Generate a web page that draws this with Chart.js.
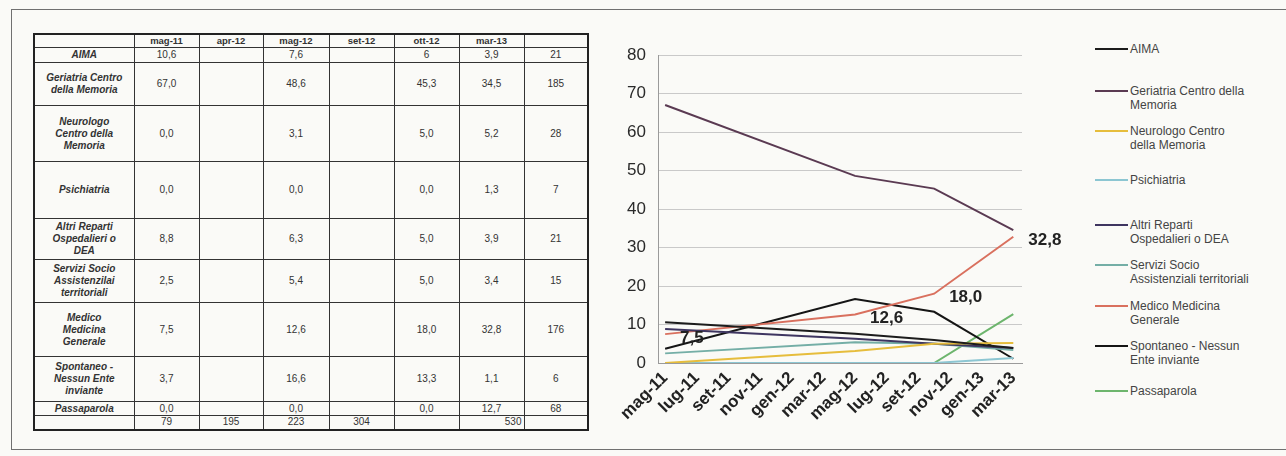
<!DOCTYPE html>
<html>
<head>
<meta charset="utf-8">
<script src="https://cdn.jsdelivr.net/npm/chart.js@4.4.1/dist/chart.umd.min.js"></script>
<style>
  html, body { margin: 0; padding: 0; background: #fafaf7; }
  body { width: 1286px; height: 456px; position: relative; overflow: hidden;
         font-family: "Liberation Sans", Arial, sans-serif; }
  #frame { position: absolute; left: 11px; top: 9px; width: 1300px; height: 439px;
           border: 1.5px solid #707070; border-right: none; }
  #tbl { position: absolute; left: 33px; top: 33px; border-collapse: collapse; table-layout: fixed;
         border: 2px solid #222; font-size: 10px; color: #333; }
  #tbl td { border: 1px solid #333; padding: 0 2px; text-align: center; vertical-align: middle;
            line-height: 12px; overflow: hidden; }
  #tbl tr.head td { font-weight: bold; font-size: 9.5px; }
  #tbl td.lab { font-weight: bold; font-style: italic; }
  #tbl td.right { text-align: right; }
  #chartBox { position: absolute; left: 600px; top: 30px; width: 490px; height: 410px; }
  .lg { position: absolute; left: 1095px; width: 190px; font-size: 12px; line-height: 14px; color: #444; }
  .lg i { position: absolute; left: 0; top: 6px; width: 33px; height: 2px; }
  .lg span { display: block; margin-left: 35px; white-space: pre; }
</style>
</head>
<body>
<div id="frame"></div>
<table id="tbl"></table>
<div id="chartBox"><canvas id="c" width="490" height="410"></canvas></div>
<div id="legend"></div>

<script>
// ---- data ----
const monthLabels = ['mag-11','lug-11','set-11','nov-11','gen-12','mar-12',
                     'mag-12','lug-12','set-12','nov-12','gen-13','mar-13'];
// survey dates, counted in months from mag-11: mag-11, mag-12, ott-12, mar-13
const surveyMonths = [0, 12, 17, 22];
const tableColumns = ['mag-11','apr-12','mag-12','set-12','ott-12','mar-13',''];
const surveyColumns = [0, 2, 4, 5]; // table columns holding the survey values

const seriesNames = ['AIMA','Geriatria Centro della Memoria','Neurologo Centro della Memoria','Psichiatria',
  'Altri Reparti Ospedalieri o DEA','Servizi Socio Assistenziali territoriali','Medico Medicina Generale',
  'Spontaneo - Nessun Ente inviante','Passaparola'];
const legendNames = ['AIMA','Geriatria Centro della\nMemoria','Neurologo Centro\ndella Memoria','Psichiatria',
  'Altri Reparti\nOspedalieri o DEA','Servizi Socio\nAssistenziali territoriali','Medico Medicina\nGenerale',
  'Spontaneo - Nessun\nEnte inviante','Passaparola'];
const tableNames = ['AIMA','Geriatria Centro\ndella Memoria','Neurologo\nCentro della\nMemoria','Psichiatria',
  'Altri Reparti\nOspedalieri o\nDEA','Servizi Socio\nAssistenzilai\nterritoriali','Medico\nMedicina\nGenerale',
  'Spontaneo -\nNessun Ente\ninviante','Passaparola'];

const aima        = [10.6, 7.6, 6.0, 3.9];
const geriatria   = [67.0, 48.6, 45.3, 34.5];
const neurologo   = [0.0, 3.1, 5.0, 5.2];
const psichiatria = [0.0, 0.0, 0.0, 1.3];
const altriReparti= [8.8, 6.3, 5.0, 3.9];
const servizi     = [2.5, 5.4, 5.0, 3.4];
const medico      = [7.5, 12.6, 18.0, 32.8];
const spontaneo   = [3.7, 16.6, 13.3, 1.1];
const passaparola = [0.0, 0.0, 0.0, 12.7];
const rowTotals   = [21, 185, 28, 7, 21, 15, 176, 6, 68];
const columnTotals = [79, 195, 223, 304, null, 530];

const seriesValues = [aima, geriatria, neurologo, psichiatria, altriReparti, servizi, medico, spontaneo, passaparola];
const seriesColors = ['#1c1c1c','#5a3a52','#e6bd3c','#8cc6d2','#3e3560','#74aea6','#d9705e','#151515','#6db56d'];
const labelledSeries = 6; // Medico Medicina Generale carries value labels
const wholeNumberCells = { '0:2': true }; // AIMA ott-12 is written as an integer

// ---- layout ----
const rowHeights = [13, 15, 43, 56, 57, 41, 43, 54, 45, 14, 14];
const colWidths = [100, 65, 64, 66, 65, 65, 65, 64];
const legendTops = [42, 84, 124, 173, 218, 258, 299, 339, 384];

const fmt = v => v.toFixed(1).replace('.', ',');

// ---- table ----
const tbl = document.getElementById('tbl');
const cg = document.createElement('colgroup');
colWidths.forEach(w => { const c = document.createElement('col'); c.style.width = w + 'px'; cg.appendChild(c); });
tbl.appendChild(cg);
function addRow(cells, h, cls) {
  const tr = document.createElement('tr');
  tr.style.height = h + 'px';
  if (cls) tr.className = cls;
  cells.forEach(c => {
    const td = document.createElement('td');
    if (c && typeof c === 'object') { td.innerHTML = c.html; if (c.cls) td.className = c.cls; }
    else td.textContent = c == null ? '' : c;
    tr.appendChild(td);
  });
  tbl.appendChild(tr);
}
addRow([''].concat(tableColumns), rowHeights[0], 'head');
seriesValues.forEach((vals, si) => {
  const cells = [{ html: tableNames[si].replace(/\n/g, '<br>'), cls: 'lab' }];
  for (let c = 0; c < 6; c++) cells.push('');
  vals.forEach((v, k) => {
    cells[1 + surveyColumns[k]] = wholeNumberCells[si + ':' + k] ? String(Math.round(v)) : fmt(v);
  });
  cells.push(String(rowTotals[si]));
  addRow(cells, rowHeights[si + 1]);
});
addRow([''].concat(columnTotals.map((t, i) => t == null ? '' : (i === 5 ? { html: String(t), cls: 'right' } : String(t)))).concat(['']),
       rowHeights[10]);

// ---- legend ----
const legendBox = document.getElementById('legend');
legendNames.forEach((n, i) => {
  const d = document.createElement('div');
  d.className = 'lg';
  d.style.top = legendTops[i] + 'px';
  d.innerHTML = '<i style="background:' + seriesColors[i] + '"></i><span></span>';
  d.querySelector('span').textContent = n;
  legendBox.appendChild(d);
});

// ---- chart ----
const FONT = '"Liberation Sans", Arial, sans-serif';

const valueLabels = {
  id: 'valueLabels',
  afterDatasetsDraw(chart) {
    const ctx = chart.ctx;
    chart.data.datasets.forEach((ds, di) => {
      if (!ds.showValues) return;
      chart.getDatasetMeta(di).data.forEach((pt, i) => {
        ctx.save();
        ctx.font = 'bold 17px ' + FONT;
        ctx.fillStyle = '#222';
        ctx.textAlign = 'left';
        ctx.textBaseline = 'middle';
        ctx.fillText(fmt(ds.data[i].y), pt.x + 15, pt.y + 4);
        ctx.restore();
      });
    });
  }
};

new Chart(document.getElementById('c'), {
  type: 'line',
  data: {
    datasets: seriesValues.map((vals, i) => ({
      label: seriesNames[i],
      data: vals.map((v, k) => ({ x: surveyMonths[k], y: v })),
      borderColor: seriesColors[i],
      backgroundColor: seriesColors[i],
      borderWidth: 2,
      pointRadius: 0,
      tension: 0,
      showValues: i === labelledSeries
    }))
  },
  options: {
    responsive: false,
    animation: false,
    layout: { padding: { top: 25, right: 68, left: 0, bottom: 0 } },
    plugins: { legend: { display: false }, tooltip: { enabled: false } },
    scales: {
      x: {
        type: 'linear', min: -0.45, max: 22.55,
        afterBuildTicks: s => { s.ticks = monthLabels.map((_, i) => ({ value: i * 2 })); },
        afterFit: s => { s.height = 77; },
        grid: { display: false, drawTicks: false },
        border: { color: '#9a9a9a' },
        ticks: {
          autoSkip: false, maxRotation: 45, minRotation: 45, padding: 5,
          font: { size: 17, weight: 'bold', family: FONT }, color: '#222',
          callback: v => monthLabels[Math.round(v / 2)]
        }
      },
      y: {
        min: 0, max: 80,
        afterFit: s => { s.width = 58; },
        ticks: { stepSize: 10, padding: 12, font: { size: 17, family: FONT }, color: '#2a2a2a' },
        grid: { color: '#c9c9c9', drawTicks: false },
        border: { color: '#9a9a9a' }
      }
    }
  },
  plugins: [valueLabels]
});
</script>
</body>
</html>
